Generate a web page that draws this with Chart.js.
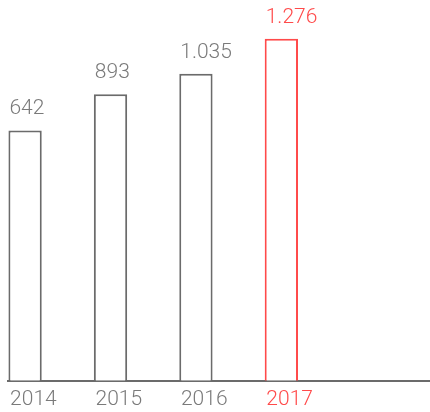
<!DOCTYPE html>
<html>
<head>
<meta charset="utf-8">
<script src="https://cdn.jsdelivr.net/npm/chart.js@4.4.1/dist/chart.umd.min.js"></script>
<style>
  html, body { margin: 0; padding: 0; background: #fff; }
  #wrap { width: 430px; height: 412px; }
</style>
</head>
<body>
<div id="wrap"><canvas id="yearChart"></canvas></div>
<script>
const years = ['2014', '2015', '2016', '2017'];
const totals = [642, 893, 1035, 1276];

const GREY = '#6b6b6b';
const GREY_TEXT = '#7a7a7a';
const RED = '#ff4a4a';
const highlight = years.length - 1; // latest year in red
const FONT = 'Roboto, "Helvetica Neue", sans-serif';

// 1035 -> "1.035"
function fmt(v) {
    return String(v).replace(/\B(?=(\d{3})+(?!\d))/g, '.');
}

// Value labels on top of each bar, left aligned with the bar edge
const valueLabels = {
    id: 'valueLabels',
    afterDatasetsDraw(chart) {
        const ctx = chart.ctx;
        const meta = chart.getDatasetMeta(0);
        ctx.save();
        ctx.font = '300 21px ' + FONT;
        ctx.textAlign = 'left';
        ctx.textBaseline = 'alphabetic';
        meta.data.forEach((bar, i) => {
            ctx.fillStyle = i === highlight ? RED : GREY_TEXT;
            ctx.fillText(fmt(totals[i]), bar.x - bar.width / 2 + 1, bar.y - 16);
        });
        ctx.restore();
    }
};

new Chart(document.getElementById('yearChart'), {
    type: 'bar',
    data: {
        datasets: [{
            data: totals.map((v, i) => ({ x: i, y: v })),
            base: -1090,
            backgroundColor: '#ffffff',
            borderColor: totals.map((v, i) => i === highlight ? RED : GREY),
            borderWidth: 2,
            borderSkipped: 'start',
            barPercentage: 0.39,
            categoryPercentage: 1
        }]
    },
    options: {
        responsive: true,
        maintainAspectRatio: false,
        animation: false,
        layout: { padding: { left: 8, right: 0, top: 0, bottom: -6 } },
        plugins: { legend: { display: false }, tooltip: { enabled: false } },
        scales: {
            x: {
                type: 'linear',
                offset: false,
                min: -0.2,
                max: 4.74,
                grid: { display: false, drawTicks: false },
                border: { display: true, color: GREY, width: 2 },
                ticks: {
                    stepSize: 1,
                    includeBounds: false,
                    align: 'start',
                    labelOffset: -15,
                    padding: 6,
                    font: { family: FONT, size: 21, weight: 300 },
                    color: ctx => ctx.tick && ctx.tick.value === highlight ? RED : GREY_TEXT,
                    callback: v => years[v] || ''
                }
            },
            y: {
                display: false,
                min: -1090,
                max: 1545
            }
        }
    },
    plugins: [valueLabels]
});
</script>
</body>
</html>
